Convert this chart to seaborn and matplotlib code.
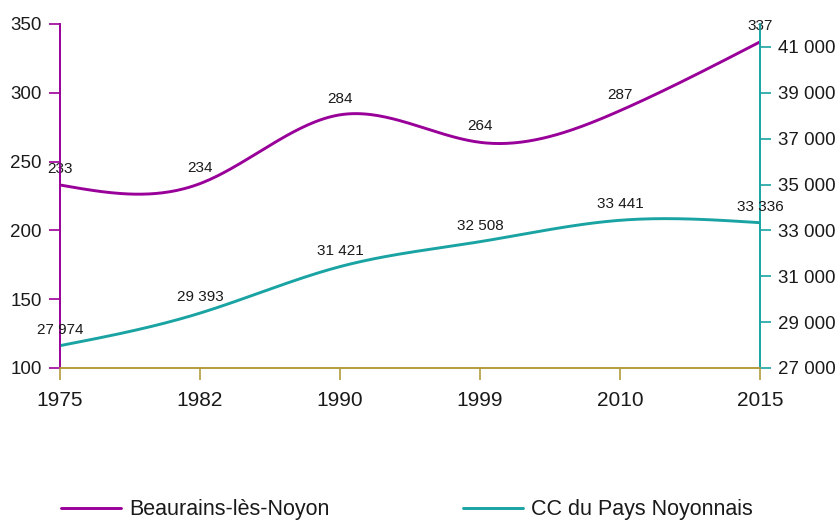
import numpy as np
import seaborn as sns
import matplotlib.pyplot as plt
from matplotlib.lines import Line2D
from matplotlib.ticker import FuncFormatter, MultipleLocator

years = ['1975', '1982', '1990', '1999', '2010', '2015']
beaurains = [233, 234, 284, 264, 287, 337]
cc_noyonnais = [27974, 29393, 31421, 32508, 33441, 33336]

purple = '#990099'
teal = '#1aa3a3'
olive = '#b39b3c'


def spline(values, n=300):
    # natural cubic spline through the points, drawn like the office chart smoothing
    y = np.asarray(values, dtype=float)
    k = len(y)
    A = np.zeros((k, k))
    b = np.zeros(k)
    A[0, 0] = A[-1, -1] = 1
    for i in range(1, k - 1):
        A[i, i - 1:i + 2] = [1, 4, 1]
        b[i] = 6 * (y[i + 1] - 2 * y[i] + y[i - 1])
    M = np.linalg.solve(A, b)
    xs = np.linspace(0, k - 1, n)
    i = np.minimum(xs.astype(int), k - 2)
    t = xs - i
    ys = ((1 - t) * y[i] + t * y[i + 1]
          + ((1 - t) ** 3 - (1 - t)) * M[i] / 6 + (t ** 3 - t) * M[i + 1] / 6)
    return xs, ys


def fmt(v):
    return f'{int(v):,}'.replace(',', ' ')


sns.set_theme(style='white')
plt.rcParams['font.family'] = ['Liberation Sans', 'DejaVu Sans']

fig = plt.figure(figsize=(8.37, 5.21), dpi=100)
ax = fig.add_axes([60 / 837, 1 - 368 / 521, 700 / 837, 344 / 521])
ax2 = ax.twinx()

x1, y1 = spline(beaurains)
x2, y2 = spline(cc_noyonnais)
sns.lineplot(x=x1, y=y1, ax=ax, color=purple, lw=2.1, sort=False)
sns.lineplot(x=x2, y=y2, ax=ax2, color=teal, lw=2.1, sort=False)

for i, v in enumerate(beaurains):
    ax.annotate(str(v), (i, v), xytext=(0, 11.5), textcoords='offset points',
                ha='center', va='center', fontsize=11, color='#1a1a1a')
for i, v in enumerate(cc_noyonnais):
    ax2.annotate(fmt(v), (i, v), xytext=(0, 11.5), textcoords='offset points',
                 ha='center', va='center', fontsize=11, color='#1a1a1a')

ax.set_xlim(0, len(years) - 1)
ax.set_xticks(range(len(years)))
ax.set_xticklabels(years)
ax.set_ylim(100, 350)
ax.yaxis.set_major_locator(MultipleLocator(50))
ax2.set_ylim(27000, 42000)
ax2.set_yticks(range(27000, 42000, 2000))
ax2.yaxis.set_major_formatter(FuncFormatter(lambda v, p: fmt(v)))

for a in (ax, ax2):
    a.set_xlabel('')
    a.set_ylabel('')
    a.spines['top'].set_visible(False)
    a.spines['left'].set_color(purple)
    a.spines['right'].set_color(teal)
    a.spines['bottom'].set_color(olive)
    for s in a.spines.values():
        s.set_linewidth(1.2)

ax.tick_params(axis='y', left=True, length=8, width=1.2, color=purple,
               labelsize=13.5, pad=5, labelcolor='#1a1a1a')
ax.tick_params(axis='x', bottom=True, length=8.5, width=1.2, color=olive,
               labelsize=15, pad=8, labelcolor='#1a1a1a')
ax2.tick_params(axis='y', right=True, length=8, width=1.2, color=teal,
                labelsize=13.5, pad=5, labelcolor='#1a1a1a')

h1 = Line2D([], [], color=purple, lw=2.1)
h2 = Line2D([], [], color=teal, lw=2.1)
for h, lab, x0 in [(h1, 'Beaurains-lès-Noyon', 61), (h2, 'CC du Pays Noyonnais', 463)]:
    leg = fig.legend([h], [lab], loc='center left', bbox_to_anchor=(x0 / 837, 1 - 510 / 521),
                     frameon=False, fontsize=15.5, handlelength=2.8, handletextpad=0.36,
                     borderpad=0, borderaxespad=0)
    for t in leg.get_texts():
        t.set_color('#1a1a1a')

fig.savefig('out.png', dpi=100, facecolor='white')
